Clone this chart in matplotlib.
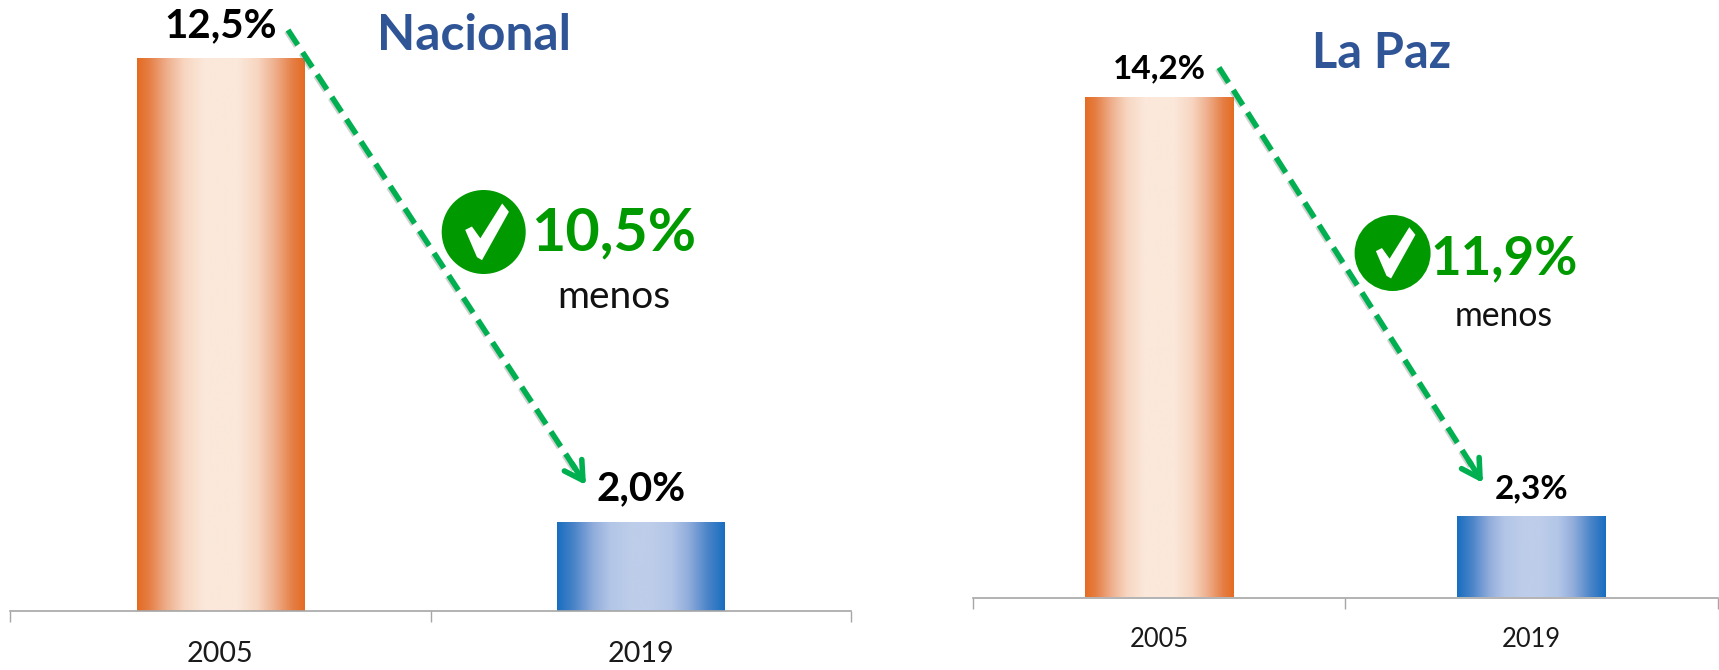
import numpy as np
import matplotlib
matplotlib.use('Agg')
import matplotlib.pyplot as plt
from matplotlib.colors import LinearSegmentedColormap
from matplotlib.patches import Circle, Polygon
import matplotlib.patheffects as pe

plt.rcParams['font.family'] = ['Lato', 'DejaVu Sans']

years = ['2005', '2019']
nacional_values = [12.5, 2.0]
lapaz_values = [14.2, 2.3]
nacional_labels = ['12,5%', '2,0%']
lapaz_labels = ['14,2%', '2,3%']

W, H = 1719, 670
BLUE_TITLE = '#2F5597'
GREEN = '#009A00'
ARROW_GREEN = '#00B050'

orange_map = LinearSegmentedColormap.from_list('orange', [
    (0, '#E46C22'), (0.07, '#E57E44'), (0.18, '#EFB08E'), (0.28, '#F7D6C1'), (0.4, '#FBE8DA'),
    (0.6, '#FBE8DA'), (0.72, '#F7D6C1'), (0.82, '#EFB08E'), (0.93, '#E57E44'), (1, '#E46C22')])
blue_map = LinearSegmentedColormap.from_list('blue', [
    (0, '#186EC0'), (0.1, '#4A84C8'), (0.22, '#93AEDC'), (0.32, '#B3C6E7'), (0.44, '#BDCDEA'),
    (0.56, '#BDCDEA'), (0.68, '#B3C6E7'), (0.78, '#93AEDC'), (0.9, '#4A84C8'), (1, '#186EC0')])
gradient = np.linspace(0, 1, 256).reshape(1, -1)


def bar_panel(left, right, base, px_per_unit, width, values, labels, label_size, tick_size, label_pads, tick_pad):
    ax = fig.add_axes([left / W, (H - base) / H, (right - left) / W, base / H])
    ax.set_xlim(0, 2)
    ax.set_ylim(0, base / px_per_unit)
    ax.patch.set_alpha(0)
    for i, (val, cmap) in enumerate(zip(values, [orange_map, blue_map])):
        x0 = i + 0.5 - width / 2
        ax.imshow(gradient, cmap=cmap, aspect='auto', extent=[x0, x0 + width, 0, val], zorder=2)
        ax.annotate(labels[i], (i + 0.5, val), xytext=(0, label_pads[i]), textcoords='offset pixels',
                    ha='center', va='center', fontsize=label_size, fontweight='bold', color='black',
                    annotation_clip=False)
    ax.set_xlim(0, 2)
    ax.set_ylim(0, base / px_per_unit)
    for s in ['top', 'left', 'right']:
        ax.spines[s].set_visible(False)
    ax.spines['bottom'].set_color('#A6A6A6')
    ax.spines['bottom'].set_linewidth(1.2)
    ax.set_yticks([])
    ax.set_xticks([0, 1, 2])
    ax.set_xticklabels([])
    ax.tick_params(axis='x', which='major', length=8, color='#A6A6A6', width=1)
    ax.set_xticks([0.5, 1.5], minor=True)
    ax.set_xticklabels(years, minor=True, fontsize=tick_size, color='#1A1A1A')
    ax.tick_params(axis='x', which='minor', length=0, pad=tick_pad)
    return ax


def trend_arrow(p0, p1):
    # dashed shaft plus a solid head, with a faint shadow like the original
    shadow = [pe.SimpleLineShadow(offset=(-1, -1), shadow_color='#808080', alpha=0.35), pe.Normal()]
    p0, p1 = np.array(p0, float), np.array(p1, float)
    d = (p1 - p0) / np.hypot(*(p1 - p0))
    end = p1 - d * 10
    over.plot([p0[0], end[0]], [p0[1], end[1]], color=ARROW_GREEN, lw=4,
              dashes=(3.2, 1.6), solid_capstyle='butt', path_effects=shadow)
    over.annotate('', xy=p1, xytext=p1 - d * 26,
                  arrowprops=dict(arrowstyle='->,head_length=1.3,head_width=0.75', color=ARROW_GREEN,
                                  lw=4, shrinkA=0, shrinkB=0))


def check_badge(cx, cy, r):
    over.add_patch(Circle((cx, cy), r, color=GREEN, lw=0))
    # check outline relative to the radius
    pts = [(-0.44, -0.05), (-0.28, -0.13), (-0.08, 0.15), (0.44, -0.68), (0.6, -0.48), (-0.04, 0.67), (-0.16, 0.6)]
    over.add_patch(Polygon([(cx + a * r, cy + b * r) for a, b in pts], closed=True, color='white', lw=0))


fig = plt.figure(figsize=(W / 100, H / 100), dpi=100, facecolor='white')

bar_panel(10, 851, 610.8, 44.2, 0.398, nacional_values, nacional_labels, 29, 20.7, (33, 34), 22)
bar_panel(973, 1717.5, 597.5, 35.2, 0.4, lapaz_values, lapaz_labels, 24, 18.4, (29, 28), 21)

# overlay in pixel coordinates for the callouts
over = fig.add_axes([0, 0, 1, 1], zorder=5)
over.set_xlim(0, W)
over.set_ylim(H, 0)
over.axis('off')

over.text(474, 35, 'Nacional', ha='center', va='center', fontsize=35.7, fontweight='bold', color=BLUE_TITLE)
over.text(1382, 54, 'La Paz', ha='center', va='center', fontsize=35, fontweight='bold', color=BLUE_TITLE)

trend_arrow((288, 30), (586, 485))
trend_arrow((1219, 67.5), (1483, 483))

check_badge(483.7, 232, 42)
check_badge(1392.6, 253, 38)

over.text(614, 233, '10,5%', ha='center', va='center', fontsize=42.6, fontweight='bold', color=GREEN)
over.text(614, 297, 'menos', ha='center', va='center', fontsize=28, color='#111111')
over.text(1504, 259, '11,9%', ha='center', va='center', fontsize=38, fontweight='bold', color=GREEN)
over.text(1504, 316, 'menos', ha='center', va='center', fontsize=24.3, color='#111111')

fig.savefig('out.png', dpi=100)
